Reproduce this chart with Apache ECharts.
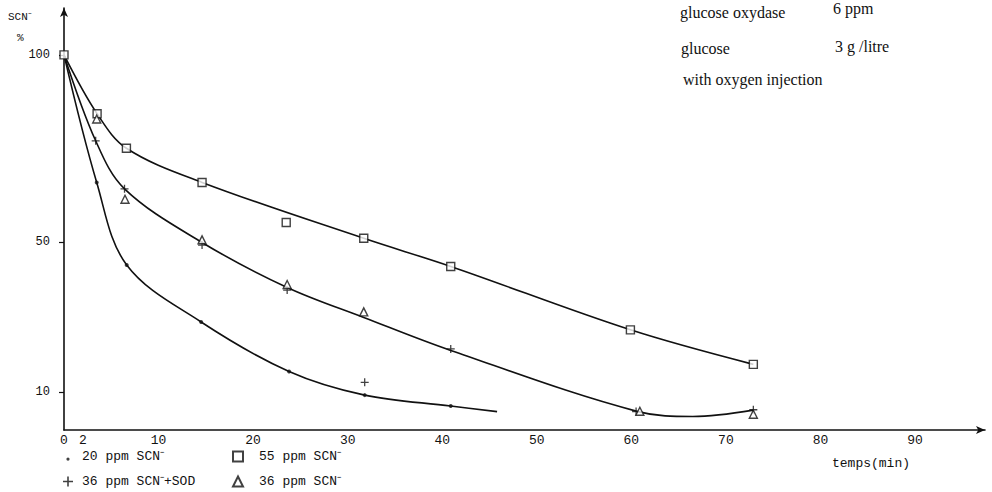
<!DOCTYPE html>
<html>
<head>
<meta charset="utf-8">
<script src="https://cdn.jsdelivr.net/npm/echarts@6/dist/echarts.min.js"></script>
<style>
html,body{margin:0;padding:0;background:#fff;}
#chart{width:992px;height:492px;}
</style>
</head>
<body>
<div id="chart"></div>
<script>
// ---- tick labels ----
const xTickLabels = [0, 2, 10, 20, 30, 40, 50, 60, 70, 80, 90];
const yTickLabels = [10, 50, 100];

// ---- measured points (markers) ----
// 55 ppm SCN- (squares)
const t55 = [0, 3.5, 6.6, 14.6, 23.5, 31.7, 40.9, 59.9, 72.9];
const v55 = [100, 84.3, 75.1, 66, 55.3, 51.1, 43.6, 26.7, 17.5];
// 36 ppm SCN- + SOD (plus)
const tSod = [3.35, 6.4, 14.6, 23.6, 31.8, 40.9, 60.5, 72.9];
const vSod = [77.1, 64.3, 49.3, 37.3, 12.7, 21.6, 4.9, 5.4];
// 36 ppm SCN- (triangles)
const t36 = [3.46, 6.45, 14.6, 23.6, 31.7, 60.9, 72.9];
const v36 = [82.9, 61.5, 50.7, 38.8, 31.5, 5.0, 4.2];
// 20 ppm SCN- (dots)
const t20 = [3.46, 6.63, 14.5, 23.8, 31.8, 40.9];
const v20 = [66, 44, 28.8, 15.6, 9.3, 6.4];

// ---- hand-drawn curves ----
const cUpT = [0, 3.5, 6.6, 14.6, 31.7, 40.9, 59.9, 72.9];
const cUpV = [100, 84.3, 75.1, 66, 51.1, 43.6, 26.7, 17.5];
const cMidT = [0, 3.35, 6.4, 14.6, 23.6, 31.7, 40.9, 60.7, 66.5, 72.9];
const cMidV = [100, 77.1, 64.3, 50, 38, 30, 21.2, 4.9, 3.6, 5.3];
const cLowT = [0, 3.46, 6.63, 14.5, 23.8, 31.8, 40.9, 45.8];
const cLowV = [100, 66, 44, 28.8, 15.6, 9.3, 6.4, 4.9];

// ---- names ----
const names = ['20 ppm SCN\u207B', '55 ppm SCN\u207B', '36 ppm SCN\u207B+SOD', '36 ppm SCN\u207B'];

function pairs(a, b) { return a.map((v, i) => [v, b[i]]); }

const PLUS = 'path://M4.2,0 L5.8,0 L5.8,4.2 L10,4.2 L10,5.8 L5.8,5.8 L5.8,10 L4.2,10 L4.2,5.8 L0,5.8 L0,4.2 L4.2,4.2 Z';
const DOT_ICON = 'path://M0,0 M10,10 M5,6 A1.6,1.6 0 1 1 5,9.2 A1.6,1.6 0 1 1 5,6 Z';
const MONO = 'Liberation Mono';

const chart = echarts.init(document.getElementById('chart'), null, {renderer: 'svg'});

function curve(t, v) {
  return {
    type: 'line', data: pairs(t, v), smooth: 0.35, symbol: 'none', silent: true,
    lineStyle: {color: '#111', width: 1.6}, z: 2
  };
}

function legendItem(left, top, item, padLeft) {
  return {
    left: left, top: top, padding: 0, itemWidth: 10, itemHeight: 10,
    selectedMode: false,
    textStyle: {color: '#111', fontFamily: MONO, fontSize: 13, padding: [0, 0, 0, padLeft]},
    data: [item]
  };
}

const option = {
  backgroundColor: '#fff',
  animation: false,
  grid: {left: 64, right: 7, top: 8, bottom: 62},
  xAxis: {
    type: 'value', min: 0, max: 97.4,
    axisLine: {lineStyle: {color: '#111', width: 1.6}, symbol: ['none', 'arrow'], symbolSize: [6, 9]},
    axisTick: {show: false},
    splitLine: {show: false},
    axisLabel: {customValues: xTickLabels, color: '#111', fontFamily: MONO, fontSize: 13, margin: 4}
  },
  yAxis: {
    type: 'value', min: 0, max: 112.5,
    axisLine: {show: true, lineStyle: {color: '#111', width: 1.6}, symbol: ['none', 'arrow'], symbolSize: [6, 9]},
    axisTick: {show: true, customValues: yTickLabels, length: 5, lineStyle: {color: '#111', width: 1.2}},
    splitLine: {show: false},
    axisLabel: {customValues: yTickLabels, color: '#111', fontFamily: MONO, fontSize: 12, margin: 14}
  },
  legend: [
    legendItem(63, 450, {name: names[0], icon: DOT_ICON}, 4),
    legendItem(63, 475, {name: names[2], icon: PLUS}, 4),
    legendItem(232, 450, {name: names[1]}, 11),
    legendItem(232, 475, {name: names[3]}, 11)
  ],
  graphic: [
    {type: 'text', left: 8, top: 11, style: {text: 'SCN\u207B', fill: '#111', font: '11px "Liberation Mono"'}},
    {type: 'text', left: 17, top: 32, style: {text: '%', fill: '#111', font: '11px "Liberation Mono"'}},
    {type: 'text', left: 832, top: 457, style: {text: 'temps(min)', fill: '#111', font: '13px "Liberation Mono"'}},
    {type: 'text', left: 680, top: 4, style: {text: 'glucose oxydase', fill: '#111', font: '16px "Liberation Serif"'}},
    {type: 'text', left: 833, top: 0, style: {text: '6 ppm', fill: '#111', font: '16px "Liberation Serif"'}},
    {type: 'text', left: 681, top: 40, style: {text: 'glucose', fill: '#111', font: '16px "Liberation Serif"'}},
    {type: 'text', left: 835, top: 38, style: {text: '3 g /litre', fill: '#111', font: '16px "Liberation Serif"'}},
    {type: 'text', left: 683, top: 71, style: {text: 'with oxygen injection', fill: '#111', font: '16px "Liberation Serif"'}}
  ],
  series: [
    curve(cUpT, cUpV),
    curve(cMidT, cMidV),
    curve(cLowT, cLowV),
    {
      name: names[0], type: 'scatter', data: pairs(t20, v20), symbol: 'circle', symbolSize: 4,
      itemStyle: {color: '#111'}, z: 3
    },
    {
      name: names[1], type: 'scatter', data: pairs(t55, v55), symbol: 'rect', symbolSize: 8,
      itemStyle: {color: '#fff', borderColor: '#111', borderWidth: 1.4}, z: 3
    },
    {
      name: names[2], type: 'scatter', data: pairs(tSod, vSod), symbol: PLUS, symbolSize: 8,
      itemStyle: {color: '#111'}, z: 3
    },
    {
      name: names[3], type: 'scatter', data: pairs(t36, v36), symbol: 'triangle', symbolSize: 8,
      itemStyle: {color: '#fff', borderColor: '#111', borderWidth: 1.4}, z: 3
    }
  ]
};
chart.setOption(option);
</script>
</body>
</html>
